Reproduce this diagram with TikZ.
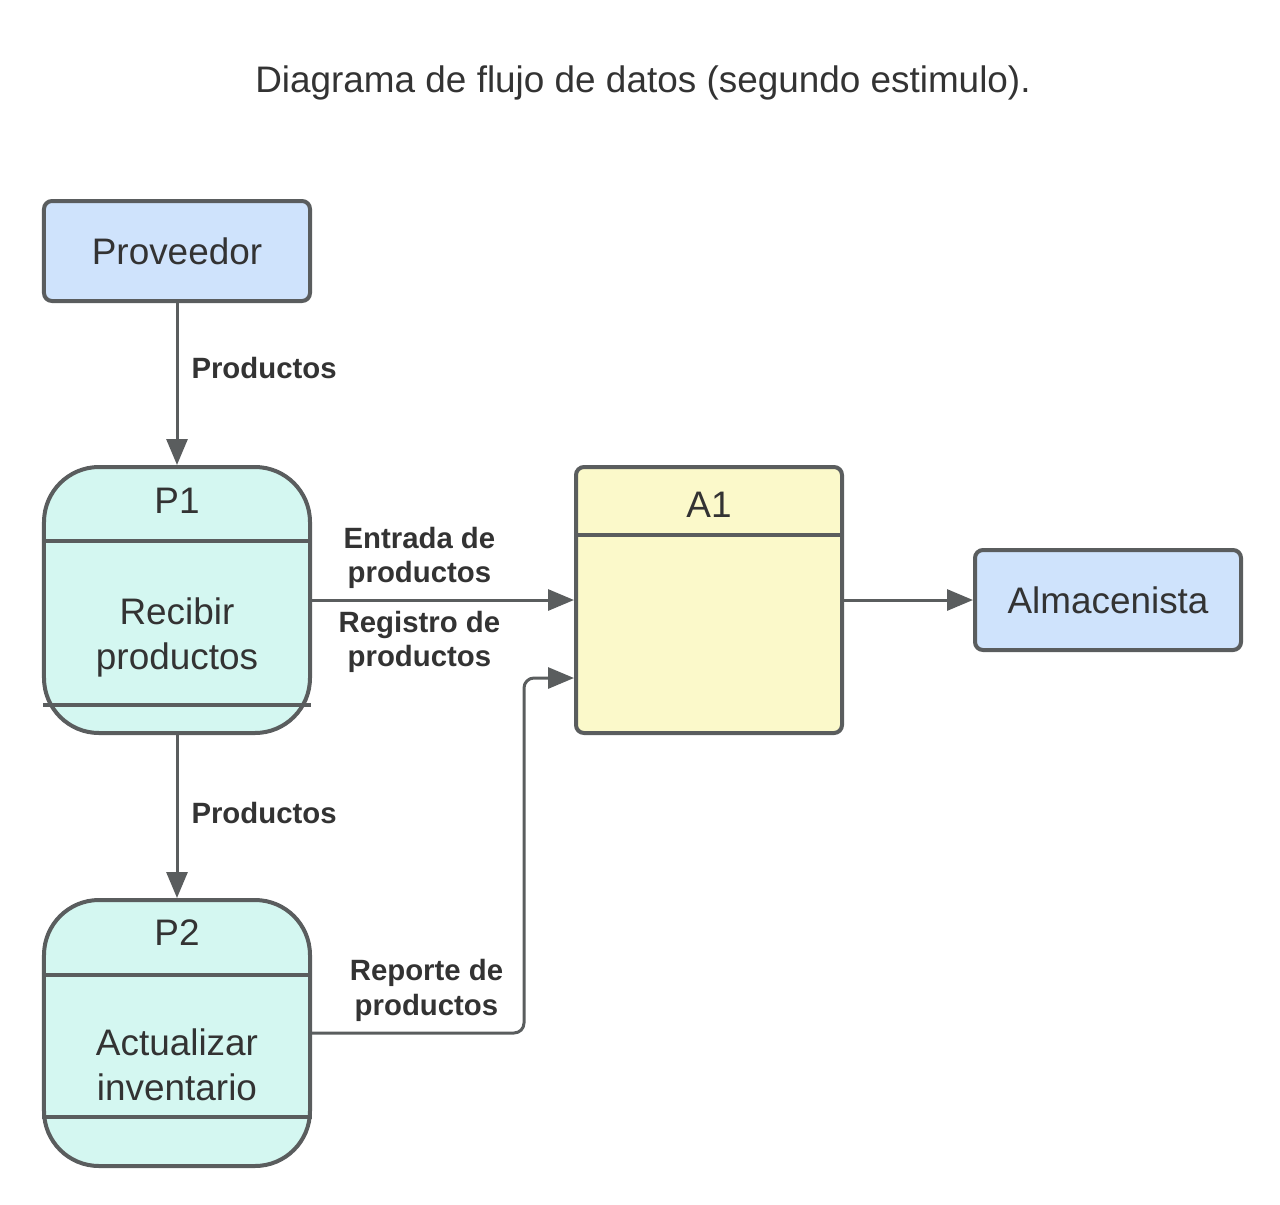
\documentclass[tikz,border=0pt]{standalone}
\usepackage{fontspec}
\setmainfont{Liberation Sans}
\usetikzlibrary{positioning,calc}
\usetikzlibrary{arrows.meta}

\definecolor{edgegray}{RGB}{90,93,94}
\definecolor{entityblue}{RGB}{207,227,252}
\definecolor{processcyan}{RGB}{212,247,241}
\definecolor{storeyellow}{RGB}{251,249,202}
\definecolor{textgray}{RGB}{51,51,51}
\newcommand{\boxfont}{\fontsize{21}{25.6}\selectfont}
\newcommand{\flowfont}{\fontsize{16.7}{19.8}\selectfont\bfseries}

\begin{document}
\begin{tikzpicture}[
	entity/.style={rectangle, draw=edgegray, line width=0.08cm, fill=entityblue, minimum width=5.32cm, minimum height=2cm, rounded corners=.16cm, text=textgray, font=\boxfont},
	process/.style={rectangle, draw=edgegray, line width=0.08cm, fill=processcyan, minimum width=5.32cm, minimum height=5.32cm, rounded corners=1.1cm},
	store/.style={rectangle, draw=edgegray, line width=0.08cm, fill=storeyellow, minimum width=5.32cm, minimum height=5.32cm, rounded corners=.16cm},
	divider/.style={draw=edgegray, line width=0.08cm},
	boxtext/.style={text=textgray, font=\boxfont, align=center, inner sep=0pt},
	flow/.style={draw=edgegray, line width=0.06cm, -{Triangle[length=0.52cm, width=0.42cm]}},
	flowlabel/.style={text=textgray, font=\flowfont, align=center, inner sep=0pt}
]
	\useasboundingbox (0,0) rectangle (25.6,-24.1);
	\node[boxtext, font=\fontsize{21}{25.6}\selectfont] (title) at (12.86,-1.66) {Diagrama de flujo de datos (segundo estimulo).};

	% entidades, procesos y almacen
	\node[entity] (proveedor) at (3.54,-5.02) {Proveedor};
	\node[process, below=3.24cm of proveedor] (p1) {};
	\node[process, below=3.26cm of p1] (p2) {};
	\node[store, right=5.24cm of p1] (a1) {};
	\node[entity, right=2.58cm of a1] (almacenista) {Almacenista};

	% divisiones y textos
	\draw[divider] ($(p1.north west)+(0,-1.52)$) -- ($(p1.north east)+(0,-1.52)$);
	\draw[divider] ($(p1.south west)+(0.02,0.6)$) -- ($(p1.south east)+(-0.02,0.6)$);
	\draw[divider] ($(p2.north west)+(0,-1.54)$) -- ($(p2.north east)+(0,-1.54)$);
	\draw[divider] ($(p2.south west)+(0,1.02)$) -- ($(p2.south east)+(0,1.02)$);
	\draw[divider] ($(a1.north west)+(0.04,-1.4)$) -- ($(a1.north east)+(-0.04,-1.4)$);
	\node[boxtext] (p1id) at ($(p1.north)+(0,-0.72)$) {P1};
	\node[boxtext] (p1txt) at ($(p1.center)+(0,-0.74)$) {Recibir\\productos};
	\node[boxtext] (p2id) at ($(p2.north)+(0,-0.7)$) {P2};
	\node[boxtext] (p2txt) at ($(p2.center)+(0,-0.64)$) {Actualizar\\inventario};
	\node[boxtext] (a1id) at ($(a1.north)+(0,-0.8)$) {A1};

	% flujos
	\coordinate (a1in) at ($(a1.west)+(0,-1.56)$);
	\draw[flow] (proveedor) -- node[flowlabel, right=0.26cm, pos=0.4] {Productos} (p1);
	\draw[flow] (p1) -- node[flowlabel, right=0.26cm, pos=0.48] {Productos} (p2);
	\draw[flow] (p1.east) -- node[flowlabel, pos=0.41, yshift=0.84cm] {Entrada de\\productos} node[flowlabel, pos=0.41, yshift=-0.84cm] {Registro de\\productos} (a1.west);
	\draw[flow, rounded corners=0.2cm] (p2.east) -- node[flowlabel, pos=0.54, yshift=0.85cm] {Reporte de\\productos} ++(4.24,0) |- (a1in);
	\draw[flow] (a1.east) -- (almacenista.west);
\end{tikzpicture}
\end{document}
